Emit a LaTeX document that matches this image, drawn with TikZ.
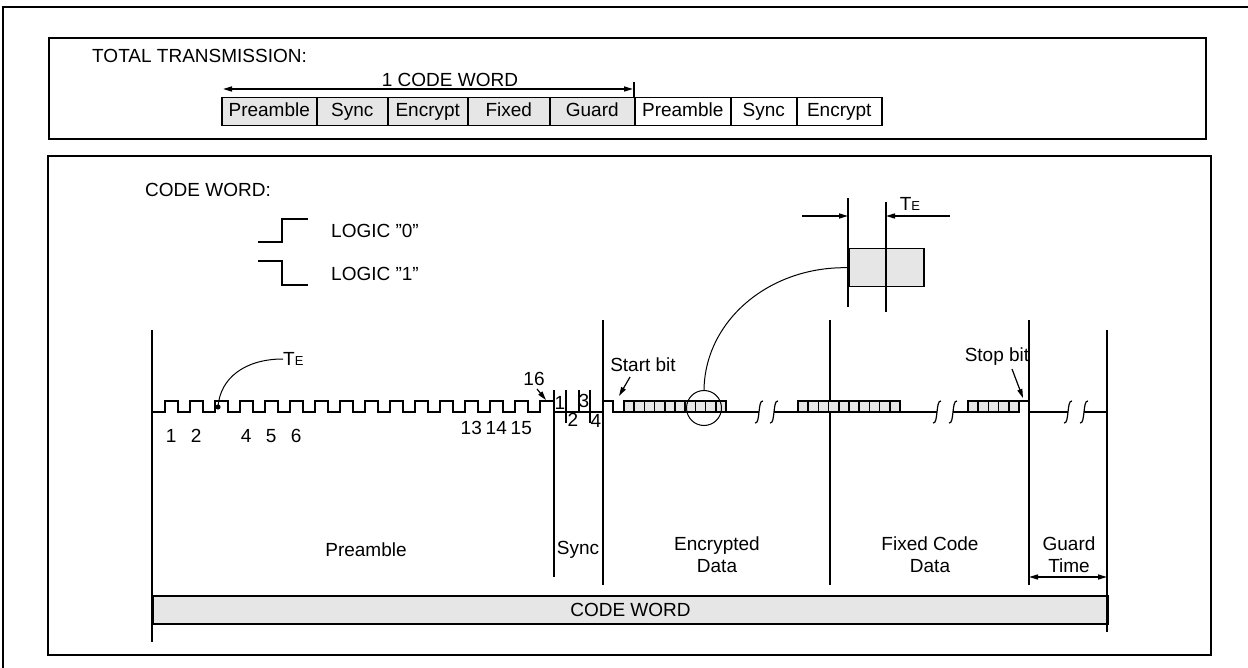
\documentclass[tikz,border=0pt]{standalone}
\usepackage{fontspec}
\setmainfont{Liberation Sans}
\usetikzlibrary{arrows.meta}
\definecolor{shade}{RGB}{230,230,230}
\newcommand{\qq}{{\char34}}
\begin{document}
\begin{tikzpicture}[x=1pt,y=-1pt,
  every node/.style={font=\fontsize{19}{22}\selectfont, inner sep=0pt},
  frame/.style={line width=2.5pt},
  boxline/.style={line width=2pt},
  wave/.style={line width=2pt, line join=miter},
  thinline/.style={line width=1pt},
  bitbox/.style={draw, fill=shade, line width=1.5pt},
  cell/.style={draw, line width=1.5pt, minimum height=28pt, text height=13.5pt, text depth=4pt, anchor=north west},
  brkline/.style={line width=1.2pt},
  tip/.style={-{Triangle[length=9pt,width=5pt]}},
  twotip/.style={{Triangle[length=9pt,width=5pt]}-{Triangle[length=9pt,width=5pt]}}
]
\useasboundingbox (0,0) rectangle (1248,668);
% frames
\draw[frame] (3,670) -- (3,7) -- (1252,7);
\draw[boxline] (49,38) rectangle (1206,139);
\draw[boxline] (48,156) rectangle (1211,655);

% ---------- total transmission ----------
\node[anchor=west] (tt) at (92,56) {TOTAL TRANSMISSION:};
\node (cwl) at (450,80) {1 CODE WORD};
\node[cell, fill=shade, minimum width=95pt] (c1) at (221,97) {Preamble};
\node[cell, fill=shade, minimum width=71pt] (c2) at (316,97) {Sync};
\node[cell, fill=shade, minimum width=80pt] (c3) at (387,97) {Encrypt};
\node[cell, fill=shade, minimum width=82pt] (c4) at (467,97) {Fixed};
\node[cell, fill=shade, minimum width=85pt] (c5) at (549,97) {Guard};
\node[cell, minimum width=96pt] (c6) at (634,97) {Preamble};
\node[cell, minimum width=66pt] (c7) at (730,97) {Sync};
\node[cell, minimum width=85pt] (c8) at (796,97) {Encrypt};
\coordinate (al) at (223,89);
\coordinate (ar) at (633,89);
\coordinate (tk) at (634,82);
\draw[line width=1.5pt, twotip] (al) -- (ar);
\draw[line width=1.5pt] (tk) -- (c6.north west);

% ---------- code word legend ----------
\node[anchor=west] (cwt) at (145,190) {CODE WORD:};
\draw[wave] (258,242) -- (282,242) -- (282,219) -- (308,219);
\draw[wave] (258,261) -- (282,261) -- (282,285) -- (308,285);
\node[anchor=west] (l0) at (331,231) {LOGIC \qq0\qq};
\node[anchor=west] (l1) at (331,274) {LOGIC \qq1\qq};

% ---------- code word bar ----------
\node[draw, fill=shade, line width=2pt, minimum width=955pt, minimum height=28pt, anchor=north west] (cw) at (152,595) {CODE WORD};

% ---------- vertical lines ----------
\draw[wave] (152,330) -- (152,642);
\draw[wave] (1107,330) -- (1107,632);
\draw[wave] (554,390) -- (554,577);
\draw[wave] (603,320) -- (603,585);
\draw[wave] (830,320) -- (830,585);
\draw[wave] (1029,320) -- (1029,585);

% ---------- preamble waveform ----------
\draw[wave] (152,412) foreach \k in {0,...,14} {
  -- ({165+25*\k},412) -- ({165+25*\k},401) -- ({177.5+25*\k},401) -- ({177.5+25*\k},412) }
  -- (540,412) -- (540,401) -- (554,401) -- (554,412) -- (603,412) -- (603,401)
  -- (613,401) -- (613,412) -- (759,412);
\draw[wave] (774,412) -- (937,412);
\draw[wave] (953,412) -- (968,412);
\draw[wave] (968,401) -- (1029,401);
\draw[wave] (1029,412) -- (1068,412);
\draw[wave] (1084,412) -- (1107,412);

% pulse numbers
\foreach \k/\lab in {1/1,2/2,4/4,5/5,6/6} {
  \node (n\lab) at ({171.25+25*(\k-1)},436) {\lab};
}
\foreach \k in {13,14,15} {
  \node (n\k) at ({171.25+25*(\k-1)},428) {\k};
}
\node (n16) at (534,379) {16};
\coordinate (p16) at (546,400);
\coordinate (a16) at (537,389);
\draw[line width=1.2pt, tip] (a16) -- (p16);

% TE marker on pulse 3
\coordinate (dot) at (218,407);
\fill (dot) circle (2.6pt);
\node[anchor=west] (te1) at (283,359) {T{\fontsize{13}{13}\selectfont E}};
\draw[thinline] (dot) .. controls (220,378) and (245,359) .. (te1.west);

% sync ticks
\draw[wave] (566,390) -- (566,423);
\draw[wave] (579,390) -- (579,412);
\draw[wave] (590,390) -- (590,423);
\node (s1) at (560,403) {1};
\node (s2) at (573,420) {2};
\node (s3) at (584,401) {3};
\node (s4) at (596,421) {4};

% data bit boxes
\foreach \i in {0,...,9} { \draw[bitbox] ({624+10.2*\i},401) rectangle ++(10.2,11); }
\foreach \i in {0,...,9} { \draw[bitbox] ({798+10.2*\i},401) rectangle ++(10.2,11); }
\foreach \i in {0,...,4} { \draw[bitbox] ({968+10.2*\i},401) rectangle ++(10.2,11); }

% breaks
\foreach \c in {759,774,937,953,1068,1084} {
  \draw[brkline] (\c-4,423) .. controls (\c-1,424) and (\c-0.5,416) .. (\c,412)
     .. controls (\c+0.5,408) and (\c+1,400) .. (\c+4,401);
}

% start / stop bit
\node (stb) at (643,365) {Start bit};
\coordinate (stba) at (630,377);
\coordinate (stbp) at (619,396);
\draw[line width=1.2pt, tip] (stba) -- (stbp);
\node (spb) at (997,357) {Stop bit};
\coordinate (spba) at (1012,369);
\coordinate (spbp) at (1023,398);
\draw[line width=1.2pt, tip] (spba) -- (spbp);

% magnifier
\node[circle, draw, thinline, minimum size=35pt] (circ) at (704,408) {};
\node[draw, fill=shade, line width=1.5pt, minimum width=75pt, minimum height=38pt, anchor=north west] (tebox) at (848,248) {};
\draw[wave] (848,198) -- (848,307);
\draw[wave] (886,202) -- (886,312);
\draw[thinline] (circ.north) .. controls (705,320) and (770,266) .. (tebox.west);
\coordinate (tl) at (802,216);
\coordinate (tlp) at (848,216);
\coordinate (tr) at (950,216);
\coordinate (trp) at (886,216);
\draw[line width=1.5pt, tip] (tl) -- (tlp);
\draw[line width=1.5pt, tip] (tr) -- (trp);
\node (te2) at (910,204) {T{\fontsize{13}{13}\selectfont E}};

% section labels
\node (lpre) at (366,550) {Preamble};
\node (lsync) at (578,550) {Sync};
\node[align=center] (lenc) at (717,555) {Encrypted\\Data};
\node[align=center] (lfix) at (930,555) {Fixed Code\\Data};
\node[align=center] (lgrd) at (1069,555) {Guard\\Time};
\coordinate (gl) at (1029,577);
\coordinate (gr) at (1107,577);
\draw[line width=1.5pt, twotip] (gl) -- (gr);
\end{tikzpicture}
\end{document}
